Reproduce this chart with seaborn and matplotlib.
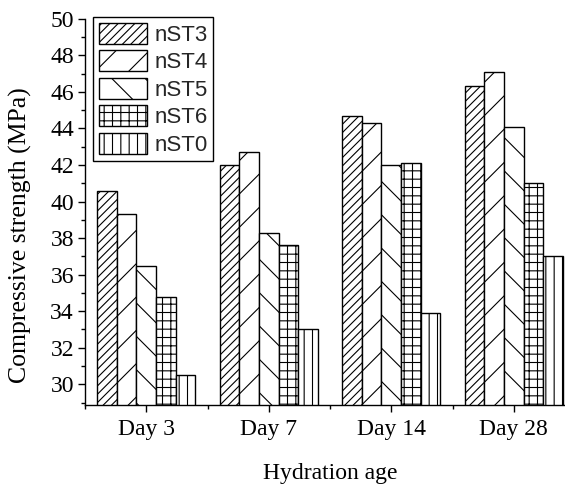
import matplotlib
matplotlib.use("Agg")
import matplotlib.pyplot as plt
import matplotlib.patches as mpatches
from matplotlib.ticker import MultipleLocator, FixedLocator
import seaborn as sns
import pandas as pd

# Compressive strength (MPa) per mix and hydration age
ages = ["Day 3", "Day 7", "Day 14", "Day 28"]
mixes = ["nST3", "nST4", "nST5", "nST6", "nST0"]
nST3 = [40.6, 42.0, 44.7, 46.3]
nST4 = [39.3, 42.7, 44.3, 47.1]
nST5 = [36.5, 38.3, 42.0, 44.1]
nST6 = [34.8, 37.6, 42.1, 41.0]
nST0 = [30.5, 33.0, 33.9, 37.0]
hatches = ["////", "/", "\\", "++", "||"]

series = dict(zip(mixes, [nST3, nST4, nST5, nST6, nST0]))
df = pd.DataFrame(
    [(age, mix, series[mix][i]) for mix in mixes for i, age in enumerate(ages)],
    columns=["age", "mix", "strength"],
)

sns.set_theme(style="ticks")
plt.rcParams["font.family"] = ["Liberation Serif", "DejaVu Serif"]
plt.rcParams["hatch.linewidth"] = 0.8
plt.rcParams["hatch.color"] = "black"

fig = plt.figure(figsize=(5.65, 4.84), dpi=100)
ax = fig.add_axes([85 / 565, 1 - 405 / 484, 490 / 565, (405 - 18.7) / 484])

sns.barplot(
    data=df, x="age", y="strength", hue="mix", order=ages, hue_order=mixes,
    palette=["white"] * len(mixes), edgecolor="black", linewidth=1.0,
    width=0.8, ax=ax, legend=False,
)
for container, h in zip(ax.containers, hatches):
    for bar in container:
        bar.set_hatch(h)

ax.set_xlim(-0.5, 3.5)
ax.set_ylim(28.87, 50)
ax.yaxis.set_major_locator(MultipleLocator(2))
ax.yaxis.set_minor_locator(MultipleLocator(1))
ax.xaxis.set_minor_locator(FixedLocator([-0.5, 0.5, 1.5, 2.5, 3.5]))

for side in ("top", "right"):
    ax.spines[side].set_visible(False)
for side in ("left", "bottom"):
    ax.spines[side].set_linewidth(1.0)
    ax.spines[side].set_color("black")

ax.tick_params(axis="both", which="major", direction="out", length=5, width=1,
               color="black", labelsize=17, labelcolor="black", pad=3)
ax.tick_params(axis="both", which="minor", direction="out", length=3, width=1,
               color="black")
ax.tick_params(axis="x", which="major", pad=5)

ax.set_xlabel("Hydration age", fontsize=17, color="black", labelpad=16.5)
ax.set_ylabel("Compressive strength (MPa)", fontsize=18.5, color="black")
ax.yaxis.set_label_coords(-0.108, (405 - 235) / 386.3)

handles = [
    mpatches.Patch(facecolor="white", edgecolor="black", hatch=h, linewidth=1.0, label=m)
    for m, h in zip(mixes, hatches)
]
leg = fig.legend(
    handles=handles, loc="upper left", bbox_to_anchor=(93 / 565, 1 - 17 / 484),
    bbox_transform=fig.transFigure, borderaxespad=0, frameon=True, fancybox=False,
    framealpha=1, edgecolor="black", prop={"family": "Liberation Sans", "size": 16},
    handlelength=2.2, handleheight=1.08, labelspacing=0.2, handletextpad=0.3,
    borderpad=0.25,
)
leg.get_frame().set_linewidth(1.0)

fig.savefig("out.png", dpi=100)
